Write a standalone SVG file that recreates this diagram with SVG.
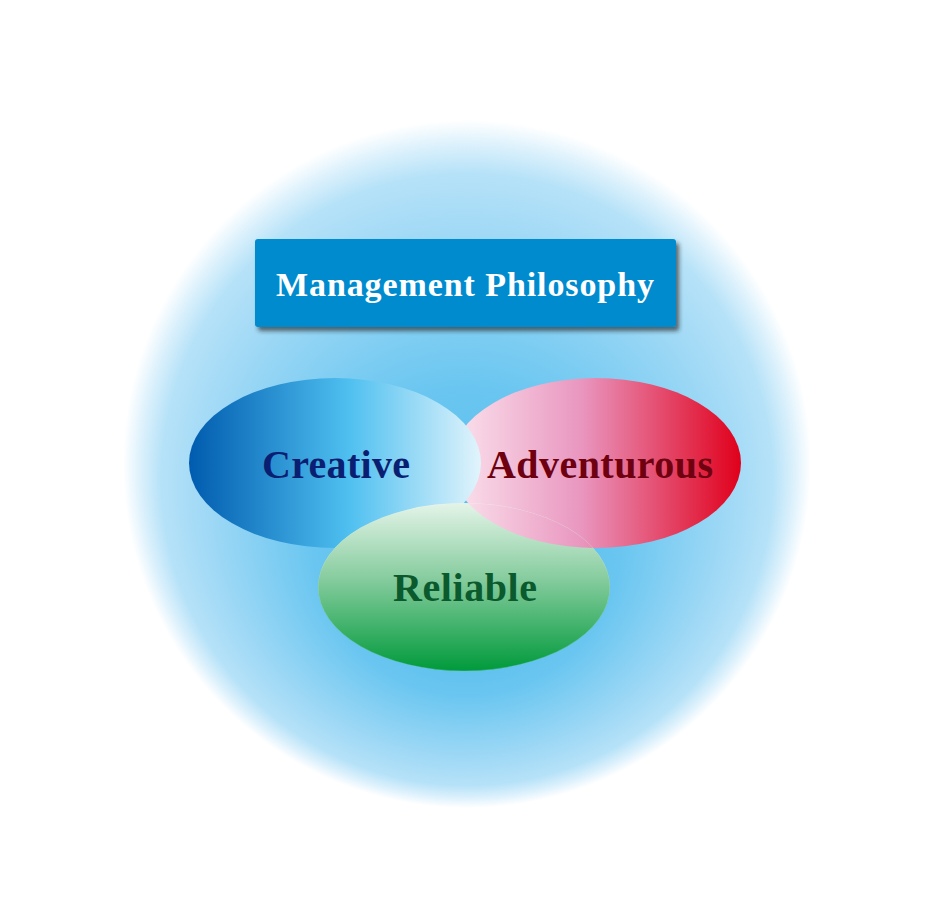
<svg xmlns="http://www.w3.org/2000/svg" width="929" height="914" viewBox="0 0 929 914">
  <defs>
    <radialGradient id="bg" gradientUnits="userSpaceOnUse" cx="467" cy="464" r="344" fx="467" fy="605">
      <stop offset="0" stop-color="#4cb8ec"/>
      <stop offset="0.45" stop-color="#6ac6f0"/>
      <stop offset="0.78" stop-color="#a3daf6"/>
      <stop offset="0.89" stop-color="#b6e2f8"/>
      <stop offset="0.95" stop-color="#dcf1fc"/>
      <stop offset="1" stop-color="#ffffff"/>
    </radialGradient>
    <linearGradient id="gC" x1="0" y1="0" x2="1" y2="0">
      <stop offset="0" stop-color="#005bae"/>
      <stop offset="0.55" stop-color="#4fc0f0"/>
      <stop offset="1" stop-color="#e2f4fc"/>
    </linearGradient>
    <linearGradient id="gA" x1="0" y1="0" x2="1" y2="0">
      <stop offset="0" stop-color="#fbe4ee"/>
      <stop offset="0.45" stop-color="#e996bf"/>
      <stop offset="1" stop-color="#e0001b"/>
    </linearGradient>
    <linearGradient id="gR" x1="0" y1="0" x2="0" y2="1">
      <stop offset="0" stop-color="#e4f4e8"/>
      <stop offset="0.45" stop-color="#86cc9e"/>
      <stop offset="1" stop-color="#009a3b"/>
    </linearGradient>
    <clipPath id="clipR">
      <ellipse cx="464" cy="587" rx="146" ry="84"/>
    </clipPath>
    <filter id="shadow" x="-10%" y="-20%" width="125%" height="150%">
      <feDropShadow dx="3" dy="4" stdDeviation="2" flood-color="#222" flood-opacity="0.65"/>
    </filter>
  </defs>
  <style>
    .lbl { font-family: "Liberation Serif", "Times New Roman", serif; font-weight: bold; font-size: 40px; }
  </style>
  <rect width="929" height="914" fill="#ffffff"/>
  <circle cx="467" cy="464" r="344" fill="url(#bg)"/>

  <g id="title">
    <rect x="255" y="239" width="421" height="88" rx="3" fill="#058bcf" filter="url(#shadow)"/>
    <text x="276" y="296" class="lbl" style="font-size:34px" fill="#ffffff" textLength="378" lengthAdjust="spacing">Management Philosophy</text>
  </g>

  <g id="connectors"></g>

  <g id="adventurous-shape">
    <ellipse cx="596" cy="463" rx="145" ry="85" fill="url(#gA)"/>
  </g>
  <g id="creative">
    <ellipse cx="335" cy="463" rx="146" ry="85" fill="url(#gC)"/>
    <text x="262" y="478" class="lbl" fill="#0b1f72" textLength="148" lengthAdjust="spacing">Creative</text>
  </g>
  <g id="reliable">
    <ellipse cx="464" cy="587" rx="146" ry="84" fill="url(#gR)"/>
    <text x="393" y="601" class="lbl" fill="#0b5a2e" textLength="144" lengthAdjust="spacing">Reliable</text>
  </g>
  <g id="adventurous">
    <ellipse cx="596" cy="463" rx="145" ry="85" fill="url(#gA)" clip-path="url(#clipR)"/>
    <ellipse cx="464" cy="587" rx="146" ry="84" fill="none" stroke="#ffffff" stroke-opacity="0.25" stroke-width="0.8" clip-path="url(#clipR)"/>
    <text x="487" y="478" class="lbl" fill="#6e0010" textLength="226" lengthAdjust="spacing">Adventurous</text>
  </g>
</svg>
